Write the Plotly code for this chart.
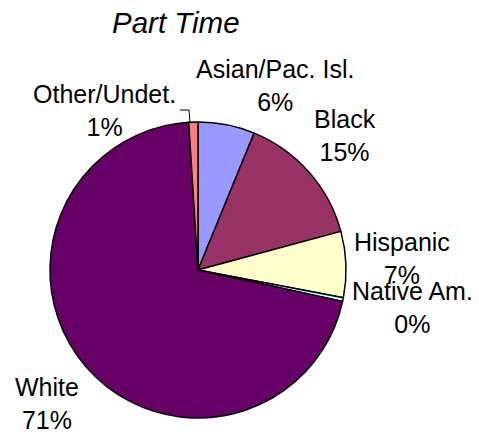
import plotly.graph_objects as go

# ---- data ----
categories = ["Asian/Pac. Isl.", "Black", "Hispanic", "Native Am.", "White", "Other/Undet."]
shares = [6.2, 14.6, 7.2, 0.4, 70.6, 1.0]

# ---- style ----
colors = ["#9999FF", "#993366", "#FFFFCC", "#CCFFFF", "#660066", "#FF8080"]
FONT = "Arial, Liberation Sans, Helvetica, sans-serif"
W, H = 479, 432
# label centres in pixels (x, y from top), one per category
label_pos = [(275, 85), (345, 135), (402, 258), (412, 307), (47, 403), (104, 111)]

cx, cy, r = 198, 270, 148

fig = go.Figure(go.Pie(
    labels=categories,
    values=shares,
    sort=False,
    direction="clockwise",
    rotation=0,
    marker=dict(colors=colors, line=dict(color="black", width=1.5)),
    textinfo="none",
    hoverinfo="label+percent",
    showlegend=False,
    domain=dict(x=[(cx - r) / W, (cx + r) / W], y=[(H - cy - r) / H, (H - cy + r) / H]),
))

total = sum(shares)
annotations = []
for cat, val, (px, py) in zip(categories, shares, label_pos):
    annotations.append(dict(
        x=px / W, y=1 - py / H, xref="paper", yref="paper",
        text=f"{cat}<br>{round(val / total * 100):.0f}%",
        showarrow=False, xanchor="center", yanchor="middle",
        font=dict(family=FONT, size=25, color="black"),
    ))
annotations.append(dict(
    x=176 / W, y=1 - 22 / H, xref="paper", yref="paper",
    text="<i>Part Time</i>", showarrow=False, xanchor="center", yanchor="middle",
    font=dict(family=FONT, size=29.5, color="black"),
))

fig.update_layout(
    width=W, height=H,
    margin=dict(l=0, r=0, t=0, b=0),
    paper_bgcolor="white", plot_bgcolor="white",
    annotations=annotations,
    shapes=[dict(type="path", xref="paper", yref="paper",
                 path=f"M {180/W} {1-110/H} L {189/W} {1-110/H} L {190/W} {1-122/H}",
                 line=dict(color="black", width=1))],
)

fig.write_html("out.html", config={"displayModeBar": False},
               post_script="document.body.style.margin='0';document.body.style.overflow='hidden';")
